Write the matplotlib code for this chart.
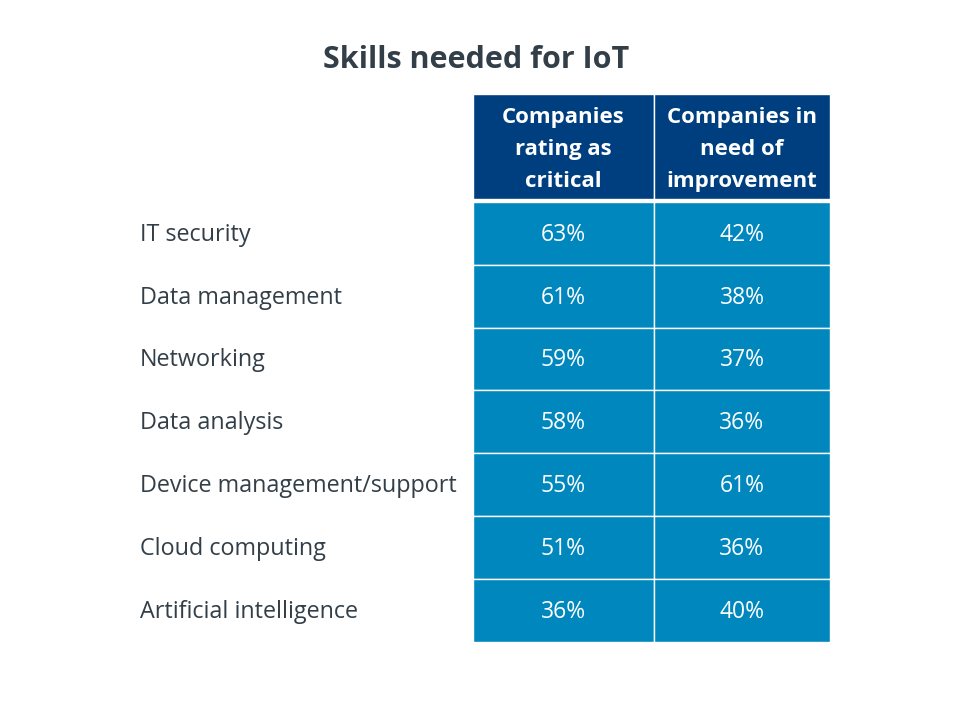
import matplotlib
matplotlib.use("Agg")
import matplotlib.pyplot as plt
from matplotlib.patches import Rectangle

plt.rcParams['font.family'] = ['Open Sans', 'DejaVu Sans']

# data
title = "Skills needed for IoT"
headers = ["Companies\nrating as\ncritical", "Companies in\nneed of\nimprovement"]
skills = ["IT security", "Data management", "Networking", "Data analysis",
          "Device management/support", "Cloud computing", "Artificial intelligence"]
critical = [63, 61, 59, 58, 55, 51, 36]
improvement = [42, 38, 37, 36, 61, 36, 40]

header_color = "#003F7F"
cell_color = "#0088BE"
text_dark = "#333F48"

fig = plt.figure(figsize=(9.6, 7.2), dpi=100)
ax = fig.add_axes([0, 0, 1, 1])
ax.set_xlim(0, 960)
ax.set_ylim(720, 0)
ax.axis("off")

# layout in pixels
col_x = [473, 654]
col_w = [181, 176]
head_top, head_h = 94, 105
body_top, row_h = 202, 62.8
label_x = 140

ax.text(476, 60, title, ha="center", va="center", fontsize=22, fontweight="bold", color=text_dark)

for j, h in enumerate(headers):
    ax.add_patch(Rectangle((col_x[j], head_top), col_w[j], head_h, facecolor=header_color,
                           edgecolor="white", linewidth=1))
    ax.text(col_x[j] + col_w[j] / 2, head_top + head_h / 2 + 3, h, ha="center", va="center",
            fontsize=16, fontweight="bold", color="white", linespacing=1.68)

for i, skill in enumerate(skills):
    y = body_top + i * row_h
    ax.text(label_x, y + row_h / 2 + 1.5, skill, ha="left", va="center", fontsize=16.8, color=text_dark)
    for j, vals in enumerate([critical, improvement]):
        ax.add_patch(Rectangle((col_x[j], y), col_w[j], row_h, facecolor=cell_color,
                               edgecolor="white", linewidth=1))
        ax.text(col_x[j] + col_w[j] / 2, y + row_h / 2 + 1.5, f"{vals[i]}%", ha="center", va="center",
                fontsize=16.5, color="white")

fig.savefig("out.png", dpi=100)
